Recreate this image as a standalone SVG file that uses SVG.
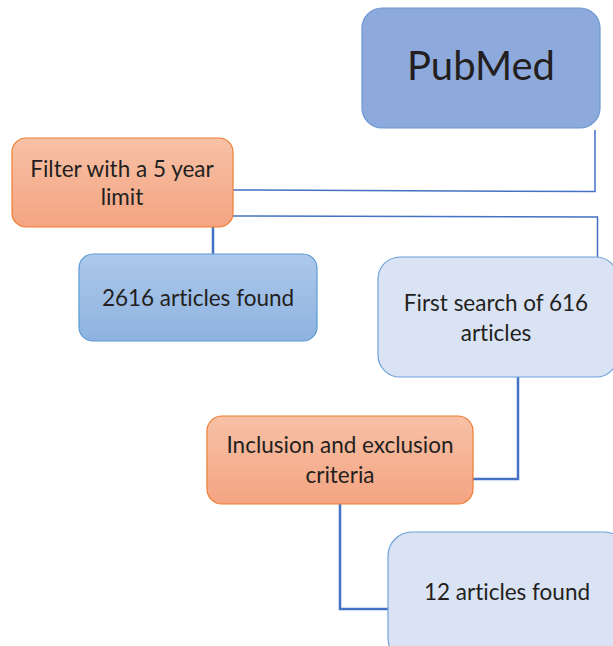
<svg xmlns="http://www.w3.org/2000/svg" width="613" height="646" viewBox="0 0 613 646">
<defs>
<linearGradient id="gOrange" x1="0" y1="0" x2="0" y2="1">
<stop offset="0" stop-color="#F7C1A6"/>
<stop offset="1" stop-color="#F4A482"/>
</linearGradient>
<linearGradient id="gBlue" x1="0" y1="0" x2="0" y2="1">
<stop offset="0" stop-color="#ADC8EA"/>
<stop offset="1" stop-color="#8EB3E0"/>
</linearGradient>
<style>
.t{font-family:Lato,"Liberation Sans",sans-serif;font-size:22.5px;fill:#231F20;text-anchor:middle;font-variant-ligatures:none;font-feature-settings:"liga" 0}
.or{fill:url(#gOrange);stroke:#ED7D31;stroke-width:1.2}
.bl{fill:url(#gBlue);stroke:#5B9BD5;stroke-width:1.2}
.lb{fill:#DAE3F3;stroke:#6FA0DA;stroke-width:1.2}
.c1{fill:none;stroke:#4472C4;stroke-width:1.5}
.c2{fill:none;stroke:#4472C4;stroke-width:2.5}
</style>
</defs>
<rect width="613" height="646" fill="#ffffff"/>
<g id="connectors">
<polyline class="c1" points="595,130 595,191.5 226,190"/>
<polyline class="c1" points="226,216 597.5,217 597.5,257"/>
<line class="c2" x1="213" y1="227" x2="213" y2="254"/>
<polyline class="c2" points="518,377 518,479 473,479"/>
<polyline class="c2" points="340,504 340,609 388,609"/>
</g>
<g id="pubmed">
<rect x="362" y="8" width="238" height="120" rx="20" fill="#8EAADC" stroke="#6A98D3" stroke-width="1.2"/>
<text class="t" x="481" y="80" style="font-size:40px">PubMed</text>
</g>
<g id="filter">
<rect class="or" x="12" y="138" width="221" height="89" rx="14"/>
<text class="t" x="122" y="177">Filter with a 5 year</text>
<text class="t" x="122" y="205">limit</text>
</g>
<g id="found2616">
<rect class="bl" x="79" y="254" width="238" height="87" rx="14"/>
<text class="t" x="198" y="306">2616 articles found</text>
</g>
<g id="firstsearch">
<rect class="lb" x="378" y="257" width="240" height="120" rx="22"/>
<text class="t" x="496" y="311">First search of 616</text>
<text class="t" x="496" y="341">articles</text>
</g>
<g id="inclusion">
<rect class="or" x="207" y="416" width="266" height="88" rx="15"/>
<text class="t" x="340" y="453">Inclusion and exclusion</text>
<text class="t" x="340" y="483">criteria</text>
</g>
<g id="found12">
<rect class="lb" x="388" y="532" width="240" height="130" rx="24"/>
<text class="t" x="507" y="600">12 articles found</text>
</g>
</svg>
